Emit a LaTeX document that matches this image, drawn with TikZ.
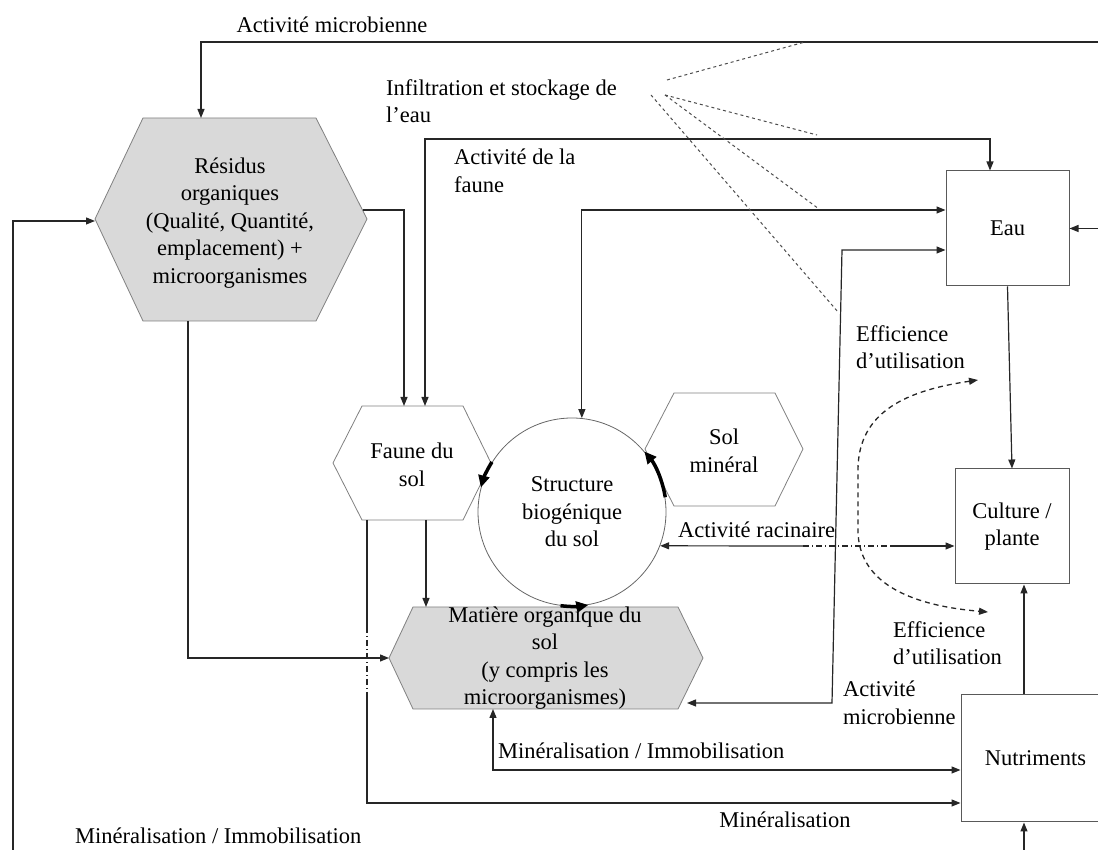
\documentclass[tikz,border=0pt]{standalone}
\usepackage{fontspec}
\setmainfont{Liberation Serif}
\usetikzlibrary{arrows.meta}
\usetikzlibrary{calc}
\newcommand{\taillepolice}{\fontsize{22.5pt}{27.5pt}\selectfont}
\tikzset{
	texte/.style={font=\taillepolice, inner sep=0pt},
	boite/.style={draw=black!65, line width=1pt, fill=white, minimum width=123pt, minimum height=115pt, font=\taillepolice, align=center},
	hexa/.style={draw=black!50, line width=0.8pt},
	trait/.style={black!85, line width=1.2pt},
	fleche/.style={trait, -{Triangle[length=9pt,width=7pt]}},
	fleche2/.style={trait, {Triangle[length=9pt,width=7pt]}-{Triangle[length=9pt,width=7pt]}},
	epais/.style={black, line width=3.5pt, -{Triangle[length=12pt,width=11pt]}},
	pointille/.style={black!70, line width=1pt, dash pattern=on 3pt off 3pt},
	tirets/.style={black!85, line width=1.3pt, dash pattern=on 5pt off 4pt, {Triangle[length=9pt,width=7pt]}-{Triangle[length=9pt,width=7pt]}},
	saut/.style={trait, dash pattern=on 6pt off 3pt on 1pt off 3pt}
}
\begin{document}
\begin{tikzpicture}[x=1pt,y=1pt]
					\useasboundingbox (0,0) rectangle (1098,850);
					\clip (0,0) rectangle (1098,850);
%					Hexagones :
					\draw[hexa, fill=black!15] (95,631) -- (143,732) -- (316,732) -- (367,631) -- (316,529) -- (143,529) -- cycle;
					\node[texte, align=center] (residus) at (230,627) {Résidus\\organiques\\(Qualité, Quantité,\\emplacement) +\\microorganismes};
					\draw[hexa, fill=white] (333,387) -- (362,444) -- (463,444) -- (491,387) -- (463,330) -- (362,330) -- cycle;
					\node[texte, align=center] (faune) at (412,385) {Faune du\\sol};
					\draw[hexa, fill=white] (645,401) -- (674,457) -- (775,457) -- (803,401) -- (775,344) -- (674,344) -- cycle;
					\node[texte, align=center] (solmin) at (724,399) {Sol\\minéral};
					\draw[hexa, fill=black!15] (389,192) -- (413,243) -- (678,243) -- (703,192) -- (678,141) -- (413,141) -- cycle;
					\node[texte, align=center] (mo) at (545,192) {Matière organique du\\sol\\(y compris les\\microorganismes)};
%					Cercle et boites :
					\node[draw=black!60, line width=0.8pt, circle, minimum size=188pt, inner sep=0pt, font=\taillepolice, align=center] (struct) at (572,338) {Structure\\biogénique\\du sol};
					\node[boite] (eau) at (1007.5,621.5) {Eau};
					\node[boite, minimum width=114pt] (culture) at (1012,323.5) {Culture /\\plante};
					\node[boite, minimum width=149pt, minimum height=127pt] (nutri) at (1035.5,91.5) {Nutriments};
%					Etiquettes :
					\node[texte] (lbl-micro) at (332,825) {Activité microbienne};
					\node[texte, anchor=west, align=left] (lbl-infil) at (386,749) {Infiltration et stockage de\\l’eau};
					\node[texte, anchor=west, align=left] (lbl-faune) at (454,679) {Activité de la\\faune};
					\node[texte, anchor=west, align=left] (lbl-eff1) at (856,503) {Efficience\\d’utilisation};
					\node[texte, anchor=west] (lbl-rac) at (678,320) {Activité racinaire};
					\node[texte, anchor=west, align=left] (lbl-eff2) at (893,207) {Efficience\\d’utilisation};
					\node[texte, anchor=west, align=left] (lbl-micro2) at (843,147) {Activité\\microbienne};
					\node[texte, anchor=west] (lbl-minim) at (498,99) {Minéralisation / Immobilisation};
					\node[texte] (lbl-min) at (785,30) {Minéralisation};
					\node[texte, anchor=west] (lbl-minim2) at (75,14) {Minéralisation / Immobilisation};
%					Points de passage :
					\coordinate (haut-d) at (1100,808);
					\coordinate (res-n) at (201,732);
					\coordinate (gauche-b) at (13,-2);
					\coordinate (res-o) at (95,629);
					\coordinate (res-e) at (363,640);
					\coordinate (res-s) at (188,529);
					\coordinate (faune-n1) at (404,444);
					\coordinate (faune-n2) at (425,444);
					\coordinate (faune-haut) at (425,711);
					\coordinate (faune-s1) at (367,330);
					\coordinate (faune-s2) at (426,330);
					\coordinate (mo-o) at (389,192);
					\coordinate (mo-n) at (426,243);
					\coordinate (mo-s) at (493,141);
					\coordinate (mo-e) at (687,147);
					\coordinate (coude-h) at (842,600);
					\coordinate (coude-b) at (832,147);
					\coordinate (saut-h) at (367,223);
					\coordinate (saut-b) at (367,157);
					\coordinate (rac-a) at (803,304);
					\coordinate (rac-b) at (890,304);
					\coordinate (droite) at (1100,621.5);
					\coordinate (bas-d) at (1024,-2);
					\coordinate (eff-h) at (978,470);
					\coordinate (eff-b) at (988,238);
					\coordinate (infil-a) at (667,770);
					\coordinate (infil-b) at (665,755);
					\coordinate (infil-c) at (651,755);
%					Liaisons :
					\draw[fleche] (haut-d) -| (res-n);
					\draw[fleche] (gauche-b) |- (res-o);
					\draw[fleche] (res-e) -| (faune-n1);
					\draw[fleche2] (faune-n2) -- (faune-haut) -| ([xshift=-17.5pt]eau.north);
					\draw[fleche2] (struct.84) |- ([yshift=18.5pt]eau.west);
					\draw[fleche2] ([yshift=-21.5pt]eau.west) -- (coude-h) -- (coude-b) -- (mo-e);
					\draw[fleche] (faune-s2) -- (mo-n);
					\draw[trait] (faune-s1) -- (saut-h);
					\draw[saut] (saut-h) -- (saut-b);
					\draw[fleche] (saut-b) |- ([yshift=-44.5pt]nutri.west);
					\draw[fleche] (res-s) |- (mo-o);
					\draw[fleche2] (mo-s) |- ([yshift=-11.5pt]nutri.west);
					\draw[fleche] ([xshift=-11.5pt]nutri.north) -- ([xshift=-11.5pt]nutri.north |- culture.south);
					\draw[fleche] (bas-d) -- (bas-d |- nutri.south);
					\draw[fleche] (eau.south) -- (culture.north);
					\draw[fleche] (droite) -- (eau.east);
%					Activité racinaire :
					\draw[fleche] (rac-a) -- (struct.-21);
					\draw[saut] (rac-a) -- (rac-b);
					\draw[fleche] (rac-b) -- (rac-b -| culture.west);
%					Flèches épaisses sur le cercle :
					\draw[epais] (struct.148) arc[start angle=148, end angle=165, radius=94pt];
					\draw[epais] (struct.9) arc[start angle=9, end angle=40, radius=94pt];
					\draw[epais] (struct.263) arc[start angle=263, end angle=280, radius=94pt];
%					Infiltration (pointillés) :
					\draw[pointille] (infil-a) -- (805,808);
					\draw[pointille] (infil-b) -- (817,715);
					\draw[pointille] (infil-b) -- (819,641);
					\draw[pointille] (infil-c) -- (838,538);
%					Efficience d'utilisation :
					\draw[tirets] (eff-h) .. controls (910,460) and (858,440) .. (858,380) -- (858,320) .. controls (858,270) and (905,245) .. (eff-b);
				\end{tikzpicture}
\end{document}
